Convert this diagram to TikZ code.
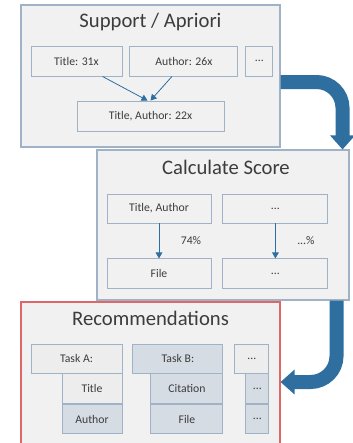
\documentclass[tikz,border=0pt]{standalone}
\usepackage{fontspec}
\setmainfont{Carlito}
\usetikzlibrary{arrows.meta, positioning, calc, patterns}

\definecolor{boxfill}{RGB}{241,241,241}
\definecolor{boxline}{RGB}{160,178,198}
\definecolor{tintfill}{RGB}{214,220,228}
\definecolor{hatchfill}{RGB}{238,238,238}
\definecolor{flowblue}{RGB}{46,111,160}
\definecolor{recline}{RGB}{222,104,104}
\definecolor{inktext}{RGB}{60,60,60}

\newdimen\pxu \pxu=0.75pt

\begin{document}
\begin{tikzpicture}[x=0.75pt, y=-0.75pt, text=inktext,
    stage/.style={draw=boxline, fill=boxfill, line width=0.8pt, inner sep=0pt},
    stage title/.style={font=\fontsize{15.5}{17}\selectfont},
    entry/.style={draw=boxline, fill=boxfill, line width=0.7pt, inner sep=0pt,
                  font=\fontsize{8.8}{10}\selectfont},
    tinted/.style={entry, fill=tintfill},
    hatched/.style={entry, preaction={fill=hatchfill},
                    pattern=north west lines, pattern color=black!7},
    link/.style={draw=flowblue, line width=0.6pt, -{Triangle[width=5pt, length=4.5pt]}},
    flow/.style={draw=flowblue, line width=10.5pt, rounded corners=19.5pt,
                 -{Triangle[width=18pt, length=10.5pt]}}]

    \useasboundingbox (0,0) rectangle (353,443);

    % Support / Apriori
    \node[stage, minimum width=259\pxu, minimum height=142\pxu] (sup) at (150.5,76) {};
    \node[stage title] (suptitle) at ($(sup.north)+(0,18)$) {Support / Apriori};
    \node[entry, minimum width=91\pxu, minimum height=30\pxu] (t31) at (76.5,61) {Title: 31x};
    \node[entry, minimum width=108\pxu, minimum height=30\pxu, right=7\pxu of t31] (a26) {Author: 26x};
    \node[entry, minimum width=27\pxu, minimum height=30\pxu, right=7\pxu of a26] (supdots) {...};
    \node[entry, minimum width=147\pxu, minimum height=30\pxu] (ta22) at (150.5,116) {Title, Author: 22x};
    \draw[link] ($(t31.south)+(26,0)$) -- ($(ta22.north)+(-3,0)$);
    \draw[link] ($(a26.south)+(-12,0)$) -- ($(ta22.north)+(0,0)$);

    % Calculate Score
    \node[stage, minimum width=252\pxu, minimum height=150\pxu] (calc) at (223,225) {};
    \node[stage title] (calctitle) at ($(calc.north)+(3,18)$) {Calculate Score};
    \node[entry, minimum width=104\pxu, minimum height=29\pxu] (ta) at (159,208.5) {Title, Author};
    \node[entry, minimum width=105\pxu, minimum height=29\pxu, right=11\pxu of ta] (calcdots) {...};
    \node[entry, minimum width=104\pxu, minimum height=30\pxu, below=35\pxu of ta] (file) {File};
    \node[entry, minimum width=105\pxu, minimum height=30\pxu, below=35\pxu of calcdots] (resdots) {...};
    \draw[link] (ta) -- (file) node[midway, right=17\pxu, font=\fontsize{8.8}{10}\selectfont] {74\%};
    \draw[link] (calcdots) -- (resdots) node[midway, right=17\pxu, font=\fontsize{8.8}{10}\selectfont] {...\%};

    % Recommendations
    \node[stage, draw=recline, minimum width=259\pxu, minimum height=160\pxu] (rec) at (150.5,382) {};
    \node[stage title] (rectitle) at ($(rec.north)+(0,17)$) {Recommendations};
    \node[hatched, minimum width=91\pxu, minimum height=29\pxu] (taskA) at (76.5,358.5) {Task A:};
    \node[hatched, minimum width=60\pxu, minimum height=30\pxu, anchor=north east] (titleA) at (taskA.south east) {Title};
    \node[tinted, minimum width=60\pxu, minimum height=29\pxu, anchor=north] (authorA) at (titleA.south) {Author};
    \node[tinted, minimum width=90\pxu, minimum height=29\pxu, right=10\pxu of taskA] (taskB) {Task B:};
    \node[tinted, minimum width=72\pxu, minimum height=30\pxu, anchor=north east] (citeB) at (taskB.south east) {Citation};
    \node[tinted, minimum width=72\pxu, minimum height=29\pxu, anchor=north] (fileB) at (citeB.south) {File};
    \node[hatched, minimum width=34\pxu, minimum height=29\pxu, right=11\pxu of taskB] (taskdots) {...};
    \node[tinted, minimum width=23\pxu, minimum height=30\pxu, anchor=north east] (middots) at (taskdots.south east) {...};
    \node[tinted, minimum width=23\pxu, minimum height=29\pxu, anchor=north] (lowdots) at (middots.south) {...};

    % big flow arrows
    \draw[flow] ($(sup.east)+(0,6)$) -| ($(calc.north east)+(-7,0)$);
    \draw[flow] ($(calc.south east)+(-13,0)$) |- (rec.east);
\end{tikzpicture}
\end{document}
